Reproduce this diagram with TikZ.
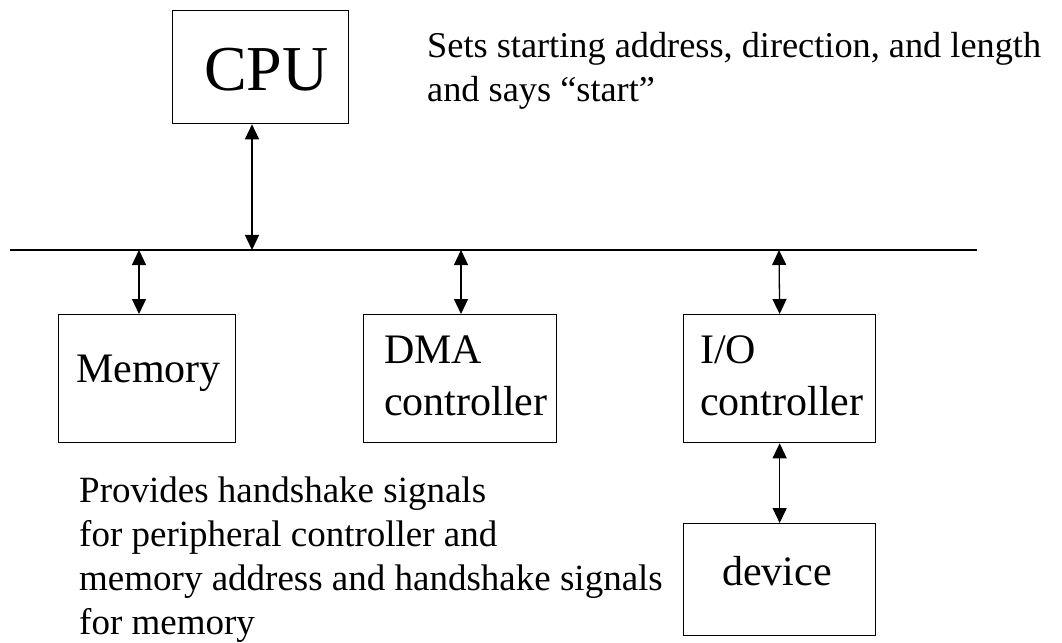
\documentclass[tikz,border=0pt]{standalone}
\usepackage{fontspec}
\setmainfont{Liberation Serif}
\usetikzlibrary{arrows.meta}

\tikzset{
    box/.style={draw, line width=1.3bp, inner sep=0pt, anchor=north west},
    lbl/.style={font=\fontsize{42bp}{52bp}\selectfont, inner sep=0pt, anchor=base west, align=left},
    note/.style={font=\fontsize{37bp}{44bp}\selectfont, inner sep=0pt, anchor=base west, align=left},
    dbl/.style={line width=1.3bp, {Triangle[length=15bp,width=14bp]}-{Triangle[length=15bp,width=14bp]}}
}

\begin{document}
\begin{tikzpicture}[x=1bp,y=-1bp]
            \useasboundingbox (0,0) rectangle (1062,643);

            % boxes
            \node[box, minimum width=176bp, minimum height=113bp] (cpu) at (172,10) {};
            \node[box, minimum width=177bp, minimum height=128bp] (mem) at (58,314) {};
            \node[box, minimum width=193bp, minimum height=128bp] (dma) at (363,314) {};
            \node[box, minimum width=192bp, minimum height=128bp] (io) at (683,314) {};
            \node[box, minimum width=192bp, minimum height=112bp] (dev) at (683,523) {};

            % labels (multi-line ones sit on their last baseline)
            \node[lbl, font=\fontsize{64bp}{70bp}\selectfont] (cpulbl) at (204,91) {CPU};
            \node[lbl] (memlbl) at (76,382) {Memory};
            \node[lbl] (dmalbl) at (384,415) {DMA\\controller};
            \node[lbl] (iolbl) at (700,415) {I/O\\controller};
            \node[lbl] (devlbl) at (722,585) {device};

            \node[note, font=\fontsize{36.3bp}{44bp}\selectfont] (startnote) at (427,102) {Sets starting address, direction, and length\\and says ``start''};
            \node[note] (dmanote) at (79,634) {Provides handshake signals\\for peripheral controller and\\memory address and handshake signals\\for memory};

            % bus
            \coordinate (busL) at (10,250);
            \coordinate (busR) at (977,250);
            \draw[line width=1.3bp] (busL) -- (busR);

            \coordinate (bcpu) at (252,250);
            \coordinate (bmem) at (139,250);
            \coordinate (bdma) at (461,250);
            \coordinate (bio) at (779,250);

            \draw[dbl] (bcpu |- cpu.south) -- (bcpu);
            \draw[dbl] (bmem) -- (bmem |- mem.north);
            \draw[dbl] (bdma) -- (bdma |- dma.north);
            \draw[dbl] (bio) -- (io.north);
            \draw[dbl] (io.south) -- (dev.north);
        \end{tikzpicture}
\end{document}
